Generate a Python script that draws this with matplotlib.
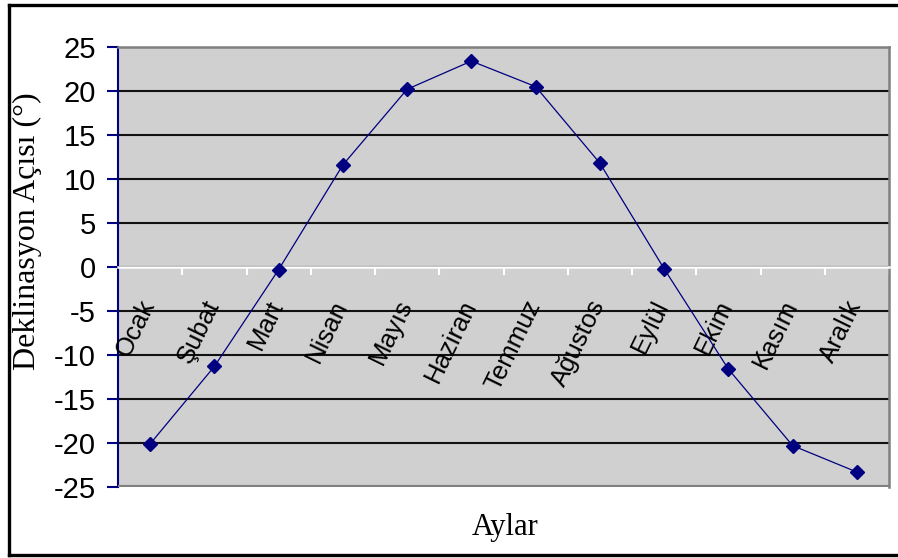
import numpy as np
import matplotlib.pyplot as plt
from matplotlib.lines import Line2D

# Aylik deklinasyon acisi
aylar = ['Ocak', 'Şubat', 'Mart', 'Nisan', 'Mayıs', 'Haziran',
         'Temmuz', 'Ağustos', 'Eylül', 'Ekim', 'Kasım', 'Aralık']
deklinasyon = [-20.1, -11.3, -0.3, 11.6, 20.2, 23.4,
               20.5, 11.8, -0.2, -11.6, -20.3, -23.3]
yticks = [-25, -20, -15, -10, -5, 0, 5, 10, 15, 20, 25]

navy = '#000080'
grey = '#808080'
plt.rcParams['axes.unicode_minus'] = False

fig = plt.figure(figsize=(8.98, 5.58), dpi=100)
ax = fig.add_axes([118/898, 1 - 487/558, (889 - 118)/898, (487 - 47)/558])
ax.set_facecolor('#d0d0d0')

x = np.arange(len(aylar))
ax.plot(x, deklinasyon, color=navy, lw=0.9, marker='D', markersize=7,
        markerfacecolor=navy, markeredgecolor=navy, zorder=5, clip_on=False)

ax.set_xlim(-0.5, len(aylar) - 0.5)
ax.set_ylim(-25, 25)
ax.set_yticks(yticks)
ax.yaxis.grid(True, color='#111111', lw=1.5)
ax.set_axisbelow(True)

# x ekseni sifirda, beyaz
ax.spines['bottom'].set_position(('data', 0))
ax.spines['bottom'].set_color('white')
ax.spines['bottom'].set_linewidth(1.8)
ax.spines['bottom'].set_zorder(3)
ax.set_xticks(np.arange(0.5, len(aylar), 1.0))
ax.tick_params(axis='x', direction='out', length=6, width=1.5, color='white',
               labelbottom=False)

ax.spines['left'].set_color(navy)
ax.spines['left'].set_linewidth(1.5)
ax.tick_params(axis='y', direction='out', length=8, width=1.5, color=navy,
               pad=8, labelsize=21)
for lab in ax.get_yticklabels():
    lab.set_family('Liberation Sans')

ax.spines['top'].set_color(grey)
ax.spines['top'].set_linewidth(1.8)
ax.spines['right'].set_color(grey)
ax.spines['right'].set_linewidth(1.8)
ax.axhline(-25, color=grey, lw=3.0, zorder=3)

for i, ay in enumerate(aylar):
    ax.text(i - 0.02, -3.9, ay, rotation=64, rotation_mode='anchor',
            ha='right', va='center', fontsize=18.5, family='Liberation Sans')

fig.text(27/898, 1 - 231/558, 'Deklinasyon Açısı (°)', rotation=90,
         ha='center', va='center', fontsize=23, family='Liberation Serif')
fig.text(505/898, 1 - 528/558, 'Aylar', ha='center', va='center',
         fontsize=22, family='Liberation Serif')

# dis cerceve
for xs, ys in [([9/898, 9/898], [1 - 5/558, 1 - 555/558]),
               ([9/898, 1.0], [1 - 5/558, 1 - 5/558]),
               ([9/898, 1.0], [1 - 555/558, 1 - 555/558])]:
    fig.add_artist(Line2D(xs, ys, color='black', lw=2.4,
                          transform=fig.transFigure))

plt.savefig('out.png', dpi=100)
